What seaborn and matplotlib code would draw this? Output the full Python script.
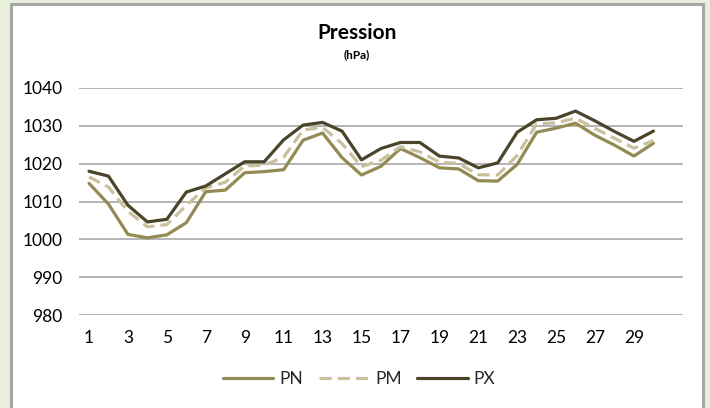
import matplotlib
matplotlib.use("Agg")
import matplotlib.pyplot as plt
import matplotlib.patches as mpatches
import seaborn as sns
import pandas as pd

# daily pressure (hPa), days 1..30
days = list(range(1, 31))
pn = [1014.8, 1009.3, 1001.3, 1000.4, 1001.2, 1004.4, 1012.6, 1013.0, 1017.6, 1017.9,
      1018.4, 1026.2, 1028.1, 1021.6, 1017.0, 1019.3, 1024.0, 1021.6, 1018.9, 1018.6,
      1015.5, 1015.4, 1019.8, 1028.3, 1029.4, 1030.7, 1027.5, 1024.9, 1022.0, 1025.4]
pm = [1016.5, 1013.8, 1007.4, 1003.3, 1003.9, 1009.0, 1013.6, 1015.1, 1019.4, 1019.6,
      1021.7, 1028.9, 1029.6, 1025.3, 1019.2, 1020.9, 1024.5, 1023.1, 1020.4, 1020.0,
      1017.1, 1017.0, 1022.2, 1030.5, 1030.8, 1032.0, 1029.3, 1026.7, 1024.1, 1026.1]
px = [1018.0, 1016.7, 1009.0, 1004.6, 1005.3, 1012.5, 1014.1, 1017.3, 1020.5, 1020.5,
      1026.3, 1030.2, 1030.9, 1028.6, 1021.0, 1024.0, 1025.6, 1025.6, 1022.0, 1021.5,
      1018.9, 1020.2, 1028.3, 1031.6, 1032.0, 1033.9, 1031.3, 1028.5, 1025.9, 1028.6]

series = {"PN": pn, "PM": pm, "PX": px}
colors = {"PN": "#948A54", "PM": "#C9C19D", "PX": "#4A452A"}
styles = {"PN": "-", "PM": (0, (3.8, 1.9)), "PX": "-"}

xticks = list(range(1, 30, 2))
yticks = [980, 990, 1000, 1010, 1020, 1030, 1040]

sns.set_style("white")
plt.rcParams["font.family"] = ["Lato", "DejaVu Sans"]

fig = plt.figure(figsize=(7.1, 4.08), dpi=100, facecolor="#E8EFDA")
fig.patches.append(mpatches.Rectangle((11 / 710, -0.02), 692 / 710, 1 - 4 / 408 + 0.02,
                                      transform=fig.transFigure, facecolor="white",
                                      edgecolor="#A6A6A6", linewidth=2.2, zorder=-5))
ax = fig.add_axes([79.3 / 710, 1 - 315 / 408, (682.6 - 79.3) / 710, (315 - 88) / 408])
ax.set_zorder(2)
ax.set_facecolor("white")

df = pd.DataFrame({"day": days})
for name, vals in series.items():
    sns.lineplot(x=df["day"], y=vals, ax=ax, color=colors[name], label=name,
                 linewidth=2.3, linestyle=styles[name])

ax.set_xlim(0.5, 31.5)
ax.set_ylim(980, 1040)
ax.set_xticks(xticks)
ax.set_yticks(yticks)
ax.grid(axis="y", color="#A0A0A0", linewidth=1.1)
ax.set_axisbelow(True)
for s in ax.spines.values():
    s.set_visible(False)
ax.tick_params(axis="both", length=0, labelsize=12.5, colors="black")
ax.tick_params(axis="x", pad=11)
ax.tick_params(axis="y", pad=12)
ax.set_xlabel("")
ax.set_ylabel("")

fig.text(357 / 710, 1 - 33 / 408, "Pression", ha="center", va="center",
         fontsize=15, fontweight="bold", color="black", zorder=3)
fig.text(357 / 710, 1 - 55 / 408, "(hPa)", ha="center", va="center",
         fontsize=8.5, fontweight="bold", color="black", zorder=3)

ax.legend(loc="center", bbox_to_anchor=((359 - 79.3) / 603.3, (315 - 379) / (315 - 88)),
          ncol=3, frameon=False, fontsize=12.5, handlelength=2.9,
          handletextpad=0.35, columnspacing=0.9)

fig.savefig("out.png", dpi=100, facecolor=fig.get_facecolor())
